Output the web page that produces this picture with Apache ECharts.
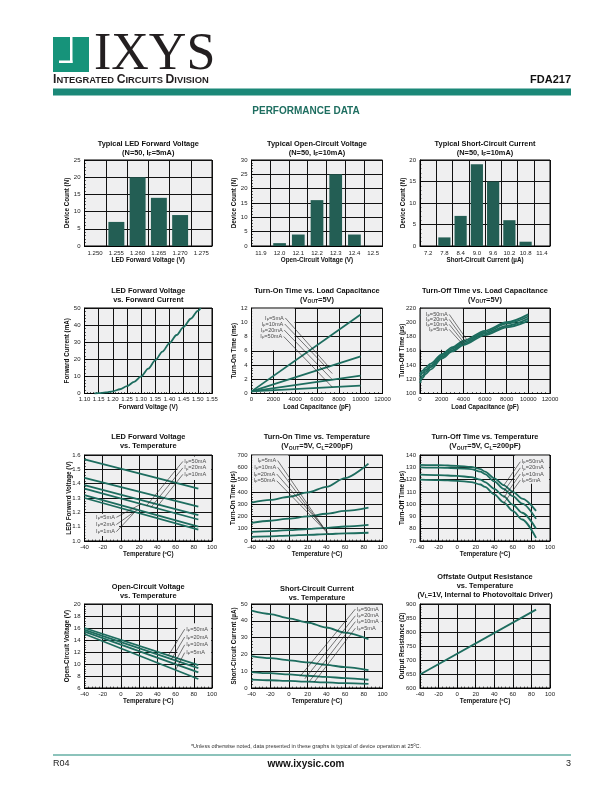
<!DOCTYPE html>
<html><head><meta charset="utf-8">
<script src="https://cdn.jsdelivr.net/npm/echarts@6.0.0/dist/echarts.min.js"></script>
<style>html,body{margin:0;padding:0;background:#fff;}#c{width:612px;height:792px;}</style>
</head><body><div id="c"></div>
<script>
// ================= DATA =================
// Row 1 histograms
const ledVfBins = ['1.250','1.255','1.260','1.265','1.270','1.275'];
const ledVfCounts = [0, 7, 20, 14, 9, 0];
const vocBins = ['11.9','12.0','12.1','12.2','12.3','12.4','12.5'];
const vocCounts = [0, 1, 4, 16, 25, 4, 0];
const iscBins = ['7.2','7.8','8.4','9.0','9.6','10.2','10.8','11.4'];
const iscCounts = [0, 2, 7, 19, 15, 6, 1, 0];

// LED forward voltage vs forward current
const fwdVoltage = [1.135,1.15,1.175,1.20,1.225,1.25,1.275,1.30,1.325,1.35,1.375,1.40,1.425,1.45,1.475,1.50,1.51];
const fwdCurrent = [0,0.2,0.6,1.3,2.5,4.3,6.8,10,14.5,19.5,24.5,29.5,34.2,39,43.7,48.3,50];

// Turn-on time vs load capacitance (ms)
const tonCap = [0, 10000];
const tonCap5mA = [0.3, 11.1];
const tonCap10mA = [0.3, 5.2];
const tonCap20mA = [0.3, 2.5];
const tonCap50mA = [0.3, 1.1];

// Turn-off time vs load capacitance (us)
const toffCap = [0,250,500,1000,2000,3000,4000,6000,8000,10000];
const toffCap50mA = [127,132,136,142,155,165,174,188,200,211];
const toffCap20mA = [124,129,133,139,153,163,172,186,198,208];
const toffCap10mA = [119,125,130,137,151,161,170,184,195,205];
const toffCap5mA  = [115,122,127,134,149,159,168,182,193,202];

// LED forward voltage vs temperature
const ledTemp = [-40, 85];
const vf50mA = [1.57, 1.365];
const vf20mA = [1.44, 1.24];
const vf10mA = [1.39, 1.18];
const vf5mA  = [1.365, 1.15];
const vf2mA  = [1.32, 1.10];
const vf1mA  = [1.30, 1.08];

// Turn-on time vs temperature (us)
const tonTemp = [-40,-20,0,20,40,60,85];
const tonT5mA  = [313,335,360,395,441,512,630];
const tonT10mA = [148,165,182,200,222,245,272];
const tonT20mA = [74,80,88,97,107,118,131];
const tonT50mA = [34,38,44,50,56,62,67];

// Turn-off time vs temperature (us)
const toffTemp = [-40,-20,0,15,25,30,40,50,60,70,85];
const toffT50mA = [132,131.7,131.2,130.3,128.5,126.5,121,115.5,110,104.5,94.5];
const toffT20mA = [130,129.7,129.2,128.5,126.5,124.5,118.5,112.5,106.5,100.5,88];
const toffT10mA = [124,123.6,123,122,120,118,112.5,106.5,99.5,93,80];
const toffT5mA  = [120,119.6,119,118,116,114,108,101.5,94.5,87.5,72.5];

// Open-circuit voltage vs temperature (V)
const vocTemp = [-40, 85];
const vocT50mA = [16.0, 9.8];
const vocT20mA = [15.7, 9.3];
const vocT10mA = [15.4, 8.6];
const vocT5mA  = [15.0, 7.5];

// Short-circuit current vs temperature (uA)
const iscTemp = [-40,-20,0,20,40,60,85];
const iscT50mA = [46,44,41.5,39,36,33,29];
const iscT20mA = [19,17.8,16.5,15.2,13.8,12.4,10.6];
const iscT10mA = [9.5,8.8,8.1,7.3,6.6,5.9,4.9];
const iscT5mA  = [5.0,4.6,4.2,3.8,3.3,2.9,2.4];

// Offstate output resistance vs temperature (ohm)
const rTemp = [-40, 85];
const rOff = [648, 880];

// Legend leader lines [labelX, labelY, endX, endY]
const ifNames4a = ['5mA','10mA','20mA','50mA'];
const ifNames4b = ['50mA','20mA','10mA','5mA'];
const ifNamesHi = ['50mA','20mA','10mA'];
const ifNamesLo = ['5mA','2mA','1mA'];
const tonCapLeaders = [[3100,10.6,7100,3.7],[3050,9.75,7400,2.8],[3000,8.9,7400,1.95],[2950,8.0,7400,0.9]];
const toffCapLeaders = [[2700,211,4300,176],[2700,204,4200,173],[2700,197,4100,170.5],[2700,190,4000,168]];
const vfTempLeadersHi = [[68,1.555,28,1.245],[68,1.51,33,1.235],[68,1.465,38,1.225]];
const vfTempLeadersLo = [[-5,1.165,22,1.258],[-5,1.115,18,1.218],[-5,1.065,15,1.2]];
const tonTempLeaders = [[-12,655,36,120],[-12,600,38,95],[-13,545,41,75],[-13,490,43,52]];
const toffTempLeaders = [[68,134.5,50,115],[68,129.5,50,110],[68,124.5,50,105],[68,119.5,50,100.5]];
const vocTempLeaders = [[70,15.8,52,11.4],[70,14.5,55,10.7],[70,13.2,58,9.95],[70,11.9,60,9.0]];
const iscTempLeaders = [[71,47,12,7],[71,43,17,5.5],[71,39.5,22,4],[71,35.6,27,3.5]];

// ================= STYLE / BUILD =================
const FN = "'Liberation Sans Narrow','Arial Narrow','Liberation Sans',Arial,sans-serif";
const FS = "'Liberation Sans',Arial,Helvetica,sans-serif";
const CURVE = '#1d6d5f';
const BARC = '#235e54';
const PLOTBG = '#efeff0';
const GRIDC = '#111';
const TEAL = '#1b8878';

const grids = [], xAxis = [], yAxis = [], series = [], titles = [];
const tickLbl = {fontFamily: FN, fontSize: 6, color: '#222'};
const axName = {fontFamily: FS, fontSize: 6.3, fontWeight: 'bold', color: '#111'};
const richSmall = {
  t: {fontFamily: FN, fontSize: 5.6, color: '#222', lineHeight: 7},
  s: {fontFamily: FN, fontSize: 4, color: '#222', verticalAlign: 'bottom', lineHeight: 3}
};
function lbl(s) { return '{t|I}{s|F}{t|=' + s + '}'; }
const plain = v => String(v);

function addGrid(l, t, w, h) {
  grids.push({left: l, top: t, width: w, height: h, show: true, backgroundColor: PLOTBG,
    borderColor: '#000', borderWidth: 1, containLabel: false, outerBoundsMode: 'none'});
  return grids.length - 1;
}
function valAxis(gi, min, max, interval, name, gap, isY, fmt) {
  return {gridIndex: gi, type: 'value', min: min, max: max, interval: interval,
    name: name, nameLocation: 'middle', nameGap: gap, nameTextStyle: axName, nameMoveOverlap: false,
    axisLine: {show: true, onZero: false, lineStyle: {color: '#000', width: 1}},
    axisTick: {show: true, inside: true, length: 3, lineStyle: {color: '#000', width: 0.8}},
    minorTick: {show: true, splitNumber: 5, length: 1.5, lineStyle: {color: '#000', width: 0.6}},
    axisLabel: Object.assign({margin: isY ? 4 : 3, showMinLabel: true, showMaxLabel: true, hideOverlap: false,
      formatter: fmt || plain}, tickLbl),
    splitLine: {show: true, lineStyle: {color: GRIDC, width: 1}},
    minorSplitLine: {show: false}};
}
function catAxis(gi, cats, name, gap) {
  return {gridIndex: gi, type: 'category', data: cats, boundaryGap: true,
    name: name, nameLocation: 'middle', nameGap: gap, nameTextStyle: axName, nameMoveOverlap: false,
    axisLine: {lineStyle: {color: '#000', width: 1}}, axisTick: {show: false},
    axisLabel: Object.assign({margin: 4, interval: 0}, tickLbl),
    splitLine: {show: true, interval: 0, lineStyle: {color: GRIDC, width: 1}}};
}
function addTitle(cx, top, text) {
  titles.push({text: text, left: cx, top: top, textAlign: 'center', padding: 0,
    textStyle: {fontFamily: FS, fontSize: 7.4, fontWeight: 'bold', color: '#111', lineHeight: 9.2,
      rich: {s: {fontFamily: FS, fontSize: 5, fontWeight: 'bold', color: '#111', verticalAlign: 'bottom', lineHeight: 3}}}});
}
function curve(gi, xs, ys, smooth) {
  series.push({type: 'line', xAxisIndex: gi, yAxisIndex: gi, data: xs.map((x, i) => [x, ys[i]]),
    symbol: 'none', smooth: smooth || false, smoothMonotone: 'x', silent: true, z: 3,
    lineStyle: {color: CURVE, width: 1.8}});
}
function leaders(gi, arr, names, side) {
  arr.forEach(a => series.push({type: 'line', xAxisIndex: gi, yAxisIndex: gi,
    data: [[a[0], a[1]], [a[2], a[3]]], symbol: 'none', silent: true, z: 4,
    lineStyle: {color: '#222', width: 0.6}}));
  series.push({type: 'scatter', xAxisIndex: gi, yAxisIndex: gi, symbolSize: 1, silent: true, z: 5,
    itemStyle: {color: 'rgba(0,0,0,0)'},
    data: arr.map((a, i) => ({value: [a[0], a[1]],
      label: {show: true, position: side, distance: 1, formatter: lbl(names[i]), rich: richSmall}}))});
}
function mask(gi, x1, y1, x2, y2) {
  series.push({type: 'line', xAxisIndex: gi, yAxisIndex: gi, data: [], silent: true, z: 1,
    markArea: {silent: true, z: 1, itemStyle: {color: PLOTBG}, label: {show: false},
      data: [[{coord: [x1, y1]}, {coord: [x2, y2]}]]}});
}
function bars(gi, vals, gap) {
  series.push({type: 'bar', xAxisIndex: gi, yAxisIndex: gi, data: vals, barCategoryGap: gap,
    silent: true, itemStyle: {color: BARC}, z: 3});
}

const C1 = [84.5, 127.5], C2 = [251.5, 131], C3 = [420, 130];
const R1 = [160, 86], R2 = [308, 85.5], R3 = [455, 86], R4 = [604, 84];
const f1 = v => v.toFixed(1), f2 = v => v.toFixed(2);

// --- Row 1 ---
let g;
g = addGrid(C1[0], R1[0], C1[1], R1[1]);
xAxis.push(catAxis(g, ledVfBins, 'LED Forward Voltage (V)', 11));
yAxis.push(valAxis(g, 0, 25, 5, 'Device Count (N)', 14, true));
bars(g, ledVfCounts, '25%');
addTitle(C1[0] + C1[1] / 2, 139, 'Typical LED Forward Voltage\n(N=50, I{s|F}=5mA)');

g = addGrid(C2[0], R1[0], C2[1], R1[1]);
xAxis.push(catAxis(g, vocBins, 'Open-Circuit Voltage (V)', 11));
yAxis.push(valAxis(g, 0, 30, 5, 'Device Count (N)', 14, true));
bars(g, vocCounts, '32%');
addTitle(C2[0] + C2[1] / 2, 139, 'Typical Open-Circuit Voltage\n(N=50, I{s|F}=10mA)');

g = addGrid(C3[0], R1[0], C3[1], R1[1]);
xAxis.push(catAxis(g, iscBins, 'Short-Circuit Current (\u00b5A)', 11));
yAxis.push(valAxis(g, 0, 20, 5, 'Device Count (N)', 14, true));
bars(g, iscCounts, '25%');
addTitle(C3[0] + C3[1] / 2, 139, 'Typical Short-Circuit Current\n(N=50, I{s|F}=10mA)');

// --- Row 2 ---
g = addGrid(C1[0], R2[0], C1[1], R2[1]);
xAxis.push(valAxis(g, 1.10, 1.55, 0.05, 'Forward Voltage (V)', 11, false, f2));
yAxis.push(valAxis(g, 0, 50, 10, 'Forward Current (mA)', 14, true));
curve(g, fwdVoltage, fwdCurrent, 0.3);
addTitle(C1[0] + C1[1] / 2, 286, 'LED Forward Voltage\nvs. Forward Current');

g = addGrid(C2[0], R2[0], C2[1], R2[1]);
xAxis.push(valAxis(g, 0, 12000, 2000, 'Load Capacitance (pF)', 11, false));
yAxis.push(valAxis(g, 0, 12, 2, 'Turn-On Time (ms)', 14, true));
mask(g, 60, 6.08, 3950, 11.93);
curve(g, tonCap, tonCap5mA); curve(g, tonCap, tonCap10mA); curve(g, tonCap, tonCap20mA); curve(g, tonCap, tonCap50mA);
leaders(g, tonCapLeaders, ifNames4a, 'left');
addTitle(C2[0] + C2[1] / 2, 286, 'Turn-On Time vs. Load Capacitance\n(V{s|OUT}=5V)');

g = addGrid(C3[0], R2[0], C3[1], R2[1]);
xAxis.push(valAxis(g, 0, 12000, 2000, 'Load Capacitance (pF)', 11, false));
yAxis.push(valAxis(g, 100, 220, 20, 'Turn-Off Time (\u00b5s)', 15, true));
mask(g, 60, 161.5, 3950, 219);
curve(g, toffCap, toffCap50mA, 0.3); curve(g, toffCap, toffCap20mA, 0.3); curve(g, toffCap, toffCap10mA, 0.3); curve(g, toffCap, toffCap5mA, 0.3);
leaders(g, toffCapLeaders, ifNames4b, 'left');
addTitle(C3[0] + C3[1] / 2, 286, 'Turn-Off Time vs. Load Capacitance\n(V{s|OUT}=5V)');

// --- Row 3 ---
g = addGrid(C1[0], R3[0], C1[1], R3[1]);
xAxis.push(valAxis(g, -40, 100, 20, 'Temperature (\u00baC)', 10, false));
yAxis.push(valAxis(g, 1.0, 1.6, 0.1, 'LED Forward Voltage (V)', 12, true, f1));
mask(g, -39, 1.035, -2, 1.19);
mask(g, 62, 1.425, 99, 1.59);
curve(g, ledTemp, vf50mA); curve(g, ledTemp, vf20mA); curve(g, ledTemp, vf10mA);
curve(g, ledTemp, vf5mA); curve(g, ledTemp, vf2mA); curve(g, ledTemp, vf1mA);
leaders(g, vfTempLeadersHi, ifNamesHi, 'right');
leaders(g, vfTempLeadersLo, ifNamesLo, 'left');
addTitle(C1[0] + C1[1] / 2, 432.5, 'LED Forward Voltage\nvs. Temperature');

g = addGrid(C2[0], R3[0], C2[1], R3[1]);
xAxis.push(valAxis(g, -40, 100, 20, 'Temperature (\u00baC)', 10, false));
yAxis.push(valAxis(g, 0, 700, 100, 'Turn-On Time (\u00b5s)', 15, true));
mask(g, -39.3, 403, -0.5, 697);
curve(g, tonTemp, tonT5mA, 0.3); curve(g, tonTemp, tonT10mA, 0.3); curve(g, tonTemp, tonT20mA, 0.3); curve(g, tonTemp, tonT50mA, 0.3);
leaders(g, tonTempLeaders, ifNames4a, 'left');
addTitle(C2[0] + C2[1] / 2, 432.5, 'Turn-On Time vs. Temperature\n(V{s|OUT}=5V, C{s|L}=200pF)');

g = addGrid(C3[0], R3[0], C3[1], R3[1]);
xAxis.push(valAxis(g, -40, 100, 20, 'Temperature (\u00baC)', 10, false));
yAxis.push(valAxis(g, 70, 140, 10, 'Turn-Off Time (\u00b5s)', 15, true));
mask(g, 62, 116.5, 99, 139.5);
curve(g, toffTemp, toffT50mA, 0.3); curve(g, toffTemp, toffT20mA, 0.3); curve(g, toffTemp, toffT10mA, 0.3); curve(g, toffTemp, toffT5mA, 0.3);
leaders(g, toffTempLeaders, ifNames4b, 'right');
addTitle(C3[0] + C3[1] / 2, 432.5, 'Turn-Off Time vs. Temperature\n(V{s|OUT}=5V, C{s|L}=200pF)');

// --- Row 4 ---
g = addGrid(C1[0], R4[0], C1[1], R4[1]);
xAxis.push(valAxis(g, -40, 100, 20, 'Temperature (\u00baC)', 10, false));
yAxis.push(valAxis(g, 6, 20, 2, 'Open-Circuit Voltage (V)', 14, true));
mask(g, 62, 11.0, 99, 16.8);
curve(g, vocTemp, vocT50mA); curve(g, vocTemp, vocT20mA); curve(g, vocTemp, vocT10mA); curve(g, vocTemp, vocT5mA);
leaders(g, vocTempLeaders, ifNames4b, 'right');
addTitle(C1[0] + C1[1] / 2, 582, 'Open-Circuit Voltage\nvs. Temperature');

g = addGrid(C2[0], R4[0], C2[1], R4[1]);
xAxis.push(valAxis(g, -40, 100, 20, 'Temperature (\u00baC)', 10, false));
yAxis.push(valAxis(g, 0, 50, 10, 'Short-Circuit Current (\u00b5A)', 14, true));
mask(g, 62, 34, 99, 49.5);
curve(g, iscTemp, iscT50mA, 0.3); curve(g, iscTemp, iscT20mA, 0.3); curve(g, iscTemp, iscT10mA, 0.3); curve(g, iscTemp, iscT5mA, 0.3);
leaders(g, iscTempLeaders, ifNames4b, 'right');
addTitle(C2[0] + C2[1] / 2, 584, 'Short-Circuit Current\nvs. Temperature');

g = addGrid(C3[0], R4[0], C3[1], R4[1]);
xAxis.push(valAxis(g, -40, 100, 20, 'Temperature (\u00baC)', 10, false));
yAxis.push(valAxis(g, 600, 900, 50, 'Output Resistance (\u03a9)', 15, true));
curve(g, rTemp, rOff);
addTitle(C3[0] + C3[1] / 2, 572, 'Offstate Output Resistance\nvs. Temperature\n(V{s|L}=1V, Internal to Photovoltaic Driver)');

// --- Header small-caps line ---
titles.push({text: '{b|I}{m|NTEGRATED }{b|C}{m|IRCUITS }{b|D}{m|IVISION}', left: 53, top: 74, padding: 0,
  textStyle: {rich: {b: {fontFamily: FS, fontSize: 12.2, fontWeight: 'bold', color: '#231f20'},
                     m: {fontFamily: FS, fontSize: 9.4, fontWeight: 'bold', color: '#231f20'}}}});

const graphic = [
  {type: 'rect', shape: {x: 53, y: 37, width: 36, height: 35}, style: {fill: '#16937a'}},
  {type: 'rect', shape: {x: 70, y: 37, width: 2.5, height: 26}, style: {fill: '#fff'}},
  {type: 'rect', shape: {x: 59, y: 60.5, width: 13.5, height: 2.5}, style: {fill: '#fff'}},
  {type: 'text', x: 94, y: 55, style: {text: 'IXYS', font: '52px "Liberation Serif","Times New Roman",serif', fill: '#231f20', textVerticalAlign: 'middle'}},
  {type: 'text', x: 571, y: 80, style: {text: 'FDA217', font: 'bold 11px "Liberation Sans",Arial,sans-serif', fill: '#111', textAlign: 'right', textVerticalAlign: 'middle'}},
  {type: 'rect', shape: {x: 53, y: 88.5, width: 518, height: 7}, style: {fill: TEAL}},
  {type: 'text', x: 306, y: 111, style: {text: 'PERFORMANCE DATA', font: 'bold 10px "Liberation Sans",Arial,sans-serif', fill: '#1e6e60', textAlign: 'center', textVerticalAlign: 'middle'}},
  {type: 'text', x: 306, y: 746, style: {text: '*Unless otherwise noted, data presented in these graphs is typical of device operation at 25\u00baC.', font: '5.5px ' + FN, fill: '#333', textAlign: 'center', textVerticalAlign: 'middle'}},
  {type: 'rect', shape: {x: 53, y: 754.5, width: 518, height: 1}, style: {fill: TEAL}},
  {type: 'text', x: 53, y: 764, style: {text: 'R04', font: '9px "Liberation Sans",Arial,sans-serif', fill: '#222', textVerticalAlign: 'middle'}},
  {type: 'text', x: 306, y: 764, style: {text: 'www.ixysic.com', font: 'bold 10px "Liberation Sans",Arial,sans-serif', fill: '#111', textAlign: 'center', textVerticalAlign: 'middle'}},
  {type: 'text', x: 571, y: 764, style: {text: '3', font: '9px "Liberation Sans",Arial,sans-serif', fill: '#222', textAlign: 'right', textVerticalAlign: 'middle'}}
];

const chart = echarts.init(document.getElementById('c'), null, {renderer: 'canvas'});
chart.setOption({
  animation: false,
  backgroundColor: '#fff',
  title: titles,
  grid: grids,
  xAxis: xAxis,
  yAxis: yAxis,
  series: series,
  graphic: graphic
});
</script>
</body></html>
